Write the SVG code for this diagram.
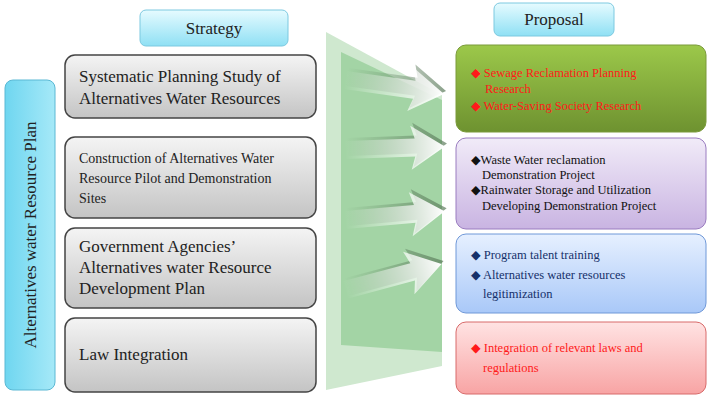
<svg xmlns="http://www.w3.org/2000/svg" width="710" height="401" viewBox="0 0 710 401">
<defs>
<linearGradient id="gray" x1="0" y1="0" x2="0" y2="1"><stop offset="0" stop-color="#f4f4f4"/><stop offset="1" stop-color="#c4c4c4"/></linearGradient>
<linearGradient id="cyan" x1="0" y1="0" x2="0" y2="1"><stop offset="0" stop-color="#e6fbff"/><stop offset="1" stop-color="#8fe0f4"/></linearGradient>
<linearGradient id="cyanv" x1="0" y1="0" x2="1" y2="0"><stop offset="0" stop-color="#6fd6f0"/><stop offset="1" stop-color="#a6e9f8"/></linearGradient>
<linearGradient id="grn" x1="0" y1="0" x2="0" y2="1"><stop offset="0" stop-color="#9cc84a"/><stop offset="1" stop-color="#6e9230"/></linearGradient>
<linearGradient id="pur" x1="0" y1="0" x2="0" y2="1"><stop offset="0" stop-color="#f1ebf8"/><stop offset="1" stop-color="#c9b4e2"/></linearGradient>
<linearGradient id="blu" x1="0" y1="0" x2="0" y2="1"><stop offset="0" stop-color="#e6f0ff"/><stop offset="1" stop-color="#a9c8f8"/></linearGradient>
<linearGradient id="red" x1="0" y1="0" x2="0" y2="1"><stop offset="0" stop-color="#ffe3e3"/><stop offset="1" stop-color="#f8a4a4"/></linearGradient>
<linearGradient id="arr" x1="0" y1="0" x2="1" y2="0"><stop offset="0" stop-color="#ffffff" stop-opacity="0"/><stop offset="1" stop-color="#ffffff"/></linearGradient>
<linearGradient id="sh" x1="0" y1="0" x2="1" y2="0"><stop offset="0" stop-color="#5a7a5a" stop-opacity="0"/><stop offset="1" stop-color="#5a7a5a"/></linearGradient>
<path id="arrow" d="M0,-9 L70,-9 L66,-22 L100,0 L66,22 L70,9 L0,9 Z"/>
</defs>
<style>
text{font-family:"Liberation Serif","DejaVu Serif","Times New Roman",serif}
.sb{fill:url(#gray);stroke:#444;stroke-width:1.5}
.st{font-size:17px;fill:#222}
.st2{font-size:14px;fill:#222}
.pt{font-size:12.5px}
</style>
<g id="vertical">
<rect x="5" y="80" width="50" height="310" rx="8" fill="url(#cyanv)" stroke="#5ab8d4"/>
<text transform="translate(36,235) rotate(-90)" text-anchor="middle" font-size="17" fill="#222">Alternatives water Resource Plan</text>
</g>
<g id="strategy-header">
<rect x="140" y="10" width="148" height="36" rx="6" fill="url(#cyan)" stroke="#7cc9e0"/>
<text x="214" y="34" text-anchor="middle" class="st">Strategy</text>
</g>
<g id="s1"><rect class="sb" x="65" y="55" width="251" height="63" rx="10"/>
<text x="79" y="82" class="st">Systematic Planning Study of</text><text x="79" y="104" class="st">Alternatives Water Resources</text></g>
<g id="s2"><rect class="sb" x="65" y="137" width="251" height="81" rx="10"/>
<text x="79" y="163" class="st2">Construction of Alternatives Water</text><text x="79" y="183" class="st2">Resource Pilot and Demonstration</text><text x="79" y="203" class="st2">Sites</text></g>
<g id="s3"><rect class="sb" x="65" y="228" width="251" height="80" rx="10"/>
<text x="79" y="252" class="st">Government Agencies’</text><text x="79" y="273" class="st">Alternatives water Resource</text><text x="79" y="294" class="st">Development Plan</text></g>
<g id="s4"><rect class="sb" x="65" y="318" width="251" height="74" rx="10"/>
<text x="79" y="360" class="st">Law Integration</text></g>
<g id="funnel">
<path d="M326,32 L442,95 L442,366 L326,390 Z" fill="#cfe8cf"/>
<path d="M341,52 L442,100 L442,352 L341,345 Z" fill="#a3d4a5"/>
</g>
<g id="connectors">
<g fill="url(#sh)" opacity="0.7">
<use href="#arrow" transform="translate(347,77) rotate(8)"/>
<use href="#arrow" transform="translate(347,147) rotate(-2)"/>
<use href="#arrow" transform="translate(347,217) rotate(-5)"/>
<use href="#arrow" transform="translate(347,287) rotate(-15)"/>
</g>
<g fill="url(#arr)">
<use href="#arrow" transform="translate(345,80) rotate(8)"/>
<use href="#arrow" transform="translate(345,150) rotate(-2)"/>
<use href="#arrow" transform="translate(345,220) rotate(-5)"/>
<use href="#arrow" transform="translate(345,290) rotate(-15)"/>
</g>
</g>
<g id="proposal-header">
<rect x="494" y="3" width="120" height="33" rx="6" fill="url(#cyan)" stroke="#7cc9e0"/>
<text x="554" y="25" text-anchor="middle" class="st">Proposal</text>
</g>
<g id="p1"><rect x="456" y="45" width="250" height="87" rx="10" fill="url(#grn)" stroke="#7a9a3a"/>
<text x="471" y="77" class="pt" fill="#ff1a1a">◆ Sewage Reclamation Planning</text><text x="485" y="93" class="pt" fill="#ff1a1a">Research</text>
<text x="471" y="110" class="pt" fill="#ff1a1a">◆ Water-Saving Society Research</text></g>
<g id="p2"><rect x="456" y="138" width="250" height="91" rx="10" fill="url(#pur)" stroke="#9a7cc0"/>
<text x="471" y="164" class="pt" fill="#111" font-size="12">◆Waste Water reclamation</text><text x="482" y="179" class="pt" fill="#111" font-size="12">Demonstration Project</text>
<text x="471" y="194" class="pt" fill="#111" font-size="12">◆Rainwater Storage and Utilization</text><text x="482" y="210" class="pt" fill="#111" font-size="12">Developing Demonstration Project</text></g>
<g id="p3"><rect x="456" y="234" width="250" height="79" rx="10" fill="url(#blu)" stroke="#6f98d8"/>
<text x="471" y="259" class="pt" fill="#15306a" font-size="12">◆ Program talent training</text>
<text x="471" y="279" class="pt" fill="#15306a" font-size="12">◆ Alternatives water resources</text><text x="483" y="298" class="pt" fill="#15306a" font-size="12">legitimization</text></g>
<g id="p4"><rect x="456" y="322" width="250" height="72" rx="10" fill="url(#red)" stroke="#d86a6a"/>
<text x="471" y="352" class="pt" fill="#ff1a1a" font-size="12">◆ Integration of relevant laws and</text><text x="483" y="372" class="pt" fill="#ff1a1a" font-size="12">regulations</text></g>
</svg>
